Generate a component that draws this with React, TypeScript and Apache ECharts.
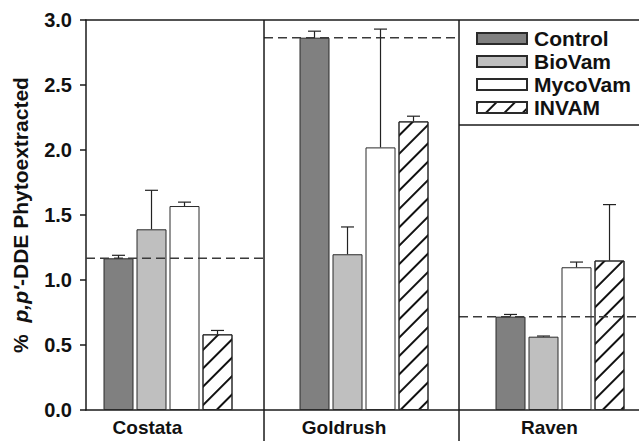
import React, { useEffect, useRef } from "react";
import * as echarts from "echarts";

// ---- data ----
const categories = ["Costata", "Goldrush", "Raven"];
const treatments = ["Control", "BioVam", "MycoVam", "INVAM"];
const control = [1.167, 2.864, 0.718];
const controlSE = [0.023, 0.05, 0.017];
const bioVam = [1.39, 1.198, 0.564];
const bioVamSE = [0.3, 0.21, 0.005];
const mycoVam = [1.569, 2.02, 1.098];
const mycoVamSE = [0.03, 0.91, 0.04];
const invam = [0.582, 2.22, 1.15];
const invamSE = [0.03, 0.04, 0.43];
const yTicks = { min: 0, max: 3, interval: 0.5 };

// ---- layout constants (positions on the hidden x value axis) ----
const groupPos = [1, 2, 3];
const XMIN = 0.5816;
const XMAX = 3.403;
const separators = [1.4898, 2.4847];
const labelPos = [0.895, 1.898, 2.946];
const legendRuleY = 2.192;
const BAR_W = 30;
const PITCH = 33;

const FONT = "'Liberation Sans', Arial, Helvetica, sans-serif";

const means = [control, bioVam, mycoVam, invam];
const ses = [controlSE, bioVamSE, mycoVamSE, invamSE];

const styles = [
  { color: "#808080", borderColor: "#2a2a2a", borderWidth: 1 },
  { color: "#bfbfbf", borderColor: "#2a2a2a", borderWidth: 1 },
  { color: "#ffffff", borderColor: "#2a2a2a", borderWidth: 1 },
  {
    color: "#ffffff",
    borderColor: "#2a2a2a",
    borderWidth: 1,
    decal: {
      symbol: "rect",
      symbolSize: 1,
      color: "#111111",
      backgroundColor: "#ffffff",
      dashArrayX: [1, 0],
      dashArrayY: [1.1, 11],
      rotation: -Math.PI / 4,
    },
  },
];

export default function App() {
  const ref = useRef<HTMLDivElement>(null);
  useEffect(() => {
    const chart = echarts.init(ref.current!, null, { renderer: "svg" });

    const barSeries = treatments.map((name, k) => ({
      name,
      type: "bar",
      xAxisIndex: 0,
      yAxisIndex: 0,
      barWidth: BAR_W,
      barGap: "10%",
      itemStyle: styles[k],
      emphasis: { disabled: true },
      data: groupPos.map((x, i) => [x, means[k][i]]),
      z: 2,
    }));

    const errData: number[][] = [];
    treatments.forEach((_, k) =>
      groupPos.forEach((x, i) => errData.push([x, means[k][i], ses[k][i], k]))
    );

    const refData = groupPos.map((_, i) => [
      i === 0 ? XMIN : separators[i - 1],
      i === 2 ? XMAX : separators[i],
      control[i],
    ]);

    chart.setOption({
      animation: false,
      backgroundColor: "#ffffff",
      textStyle: { fontFamily: FONT },
      grid: [
        { left: 86, right: 0, top: 20, bottom: 31 },
        { left: 86, right: 0, top: 20, bottom: 0 },
      ],
      legend: {
        data: treatments,
        orient: "vertical",
        left: 471,
        top: 23,
        itemWidth: 50,
        itemHeight: 11,
        itemGap: 2,
        icon: "rect",
        selectedMode: false,
        textStyle: {
          fontFamily: FONT,
          fontSize: 21,
          fontWeight: "bold",
          color: "#111",
          padding: [0, 0, 0, 2],
        },
      },
      xAxis: [
        {
          type: "value",
          gridIndex: 0,
          min: XMIN,
          max: XMAX,
          axisLine: { show: true, lineStyle: { color: "#1a1a1a", width: 1.5 } },
          axisTick: { show: false },
          splitLine: { show: false },
          axisLabel: {
            customValues: labelPos,
            margin: 8,
            fontFamily: FONT,
            fontSize: 19,
            fontWeight: "bold",
            color: "#111",
            formatter: (v: number) => {
              let best = 0;
              labelPos.forEach((p, i) => {
                if (Math.abs(p - v) < Math.abs(labelPos[best] - v)) best = i;
              });
              return categories[best];
            },
          },
        },
        {
          type: "value",
          gridIndex: 0,
          position: "top",
          min: XMIN,
          max: XMAX,
          axisLine: { show: true, lineStyle: { color: "#1a1a1a", width: 1.5 } },
          axisTick: { show: false },
          axisLabel: { show: false },
          splitLine: { show: false },
        },
        {
          type: "value",
          gridIndex: 1,
          min: XMIN,
          max: XMAX,
          show: false,
        },
      ],
      yAxis: [
        {
          type: "value",
          gridIndex: 0,
          min: yTicks.min,
          max: yTicks.max,
          interval: yTicks.interval,
          name: "%  {i|p,p′}-DDE Phytoextracted",
          nameLocation: "middle",
          nameGap: 55,
          nameTextStyle: {
            fontFamily: FONT,
            fontSize: 21,
            fontWeight: "bold",
            color: "#111",
            rich: {
              i: {
                fontFamily: FONT,
                fontSize: 21,
                fontWeight: "bold",
                fontStyle: "italic",
                color: "#111",
              },
            },
          },
          axisLine: { show: true, lineStyle: { color: "#1a1a1a", width: 1.5 } },
          axisTick: {
            show: true,
            inside: false,
            length: 6,
            lineStyle: { color: "#1a1a1a", width: 1.5 },
          },
          splitLine: { show: false },
          axisLabel: {
            margin: 14,
            fontFamily: FONT,
            fontSize: 20,
            fontWeight: "bold",
            color: "#111",
            formatter: (v: number) => v.toFixed(1),
          },
        },
        { type: "value", gridIndex: 1, min: 0, max: 1, show: false },
      ],
      series: [
        ...barSeries,
        {
          name: "errors",
          type: "custom",
          xAxisIndex: 0,
          yAxisIndex: 0,
          z: 4,
          silent: true,
          data: errData,
          renderItem: (params: any, api: any) => {
            const x = api.value(0);
            const m = api.value(1);
            const se = api.value(2);
            const k = api.value(3);
            const p0 = api.coord([x, m]);
            const p1 = api.coord([x, m + se]);
            const cx = p0[0] + (k - 1.5) * PITCH;
            const st = { stroke: "#222", lineWidth: 1.2 };
            return {
              type: "group",
              children: [
                { type: "line", shape: { x1: cx, y1: p0[1], x2: cx, y2: p1[1] }, style: st },
                { type: "line", shape: { x1: cx - 6.5, y1: p1[1], x2: cx + 6.5, y2: p1[1] }, style: st },
              ],
            };
          },
        },
        {
          name: "reference",
          type: "custom",
          xAxisIndex: 0,
          yAxisIndex: 0,
          z: 3,
          silent: true,
          data: refData,
          renderItem: (params: any, api: any) => {
            const a = api.coord([api.value(0), api.value(2)]);
            const b = api.coord([api.value(1), api.value(2)]);
            return {
              type: "line",
              shape: { x1: a[0], y1: a[1], x2: b[0], y2: b[1] },
              style: { stroke: "#3a3a3a", lineWidth: 1.5, lineDash: [9, 5] },
            };
          },
        },
        {
          name: "legendRule",
          type: "custom",
          xAxisIndex: 0,
          yAxisIndex: 0,
          z: 3,
          silent: true,
          data: [[separators[1], XMAX, legendRuleY]],
          renderItem: (params: any, api: any) => {
            const a = api.coord([api.value(0), api.value(2)]);
            const b = api.coord([api.value(1), api.value(2)]);
            return {
              type: "line",
              shape: { x1: a[0], y1: a[1], x2: b[0], y2: b[1] },
              style: { stroke: "#1a1a1a", lineWidth: 1.5 },
            };
          },
        },
        {
          name: "separators",
          type: "custom",
          xAxisIndex: 2,
          yAxisIndex: 1,
          z: 3,
          silent: true,
          data: separators.map((s) => [s, 0]),
          renderItem: (params: any, api: any) => {
            const a = api.coord([api.value(0), 1]);
            const b = api.coord([api.value(0), 0]);
            return {
              type: "line",
              shape: { x1: a[0], y1: a[1], x2: b[0], y2: b[1] },
              style: { stroke: "#1a1a1a", lineWidth: 1.5 },
            };
          },
        },
      ],
    });
    return () => chart.dispose();
  }, []);
  return (
    <div
      ref={ref}
      style={{ position: "fixed", left: 0, top: 0, width: 639, height: 441 }}
    />
  );
}
